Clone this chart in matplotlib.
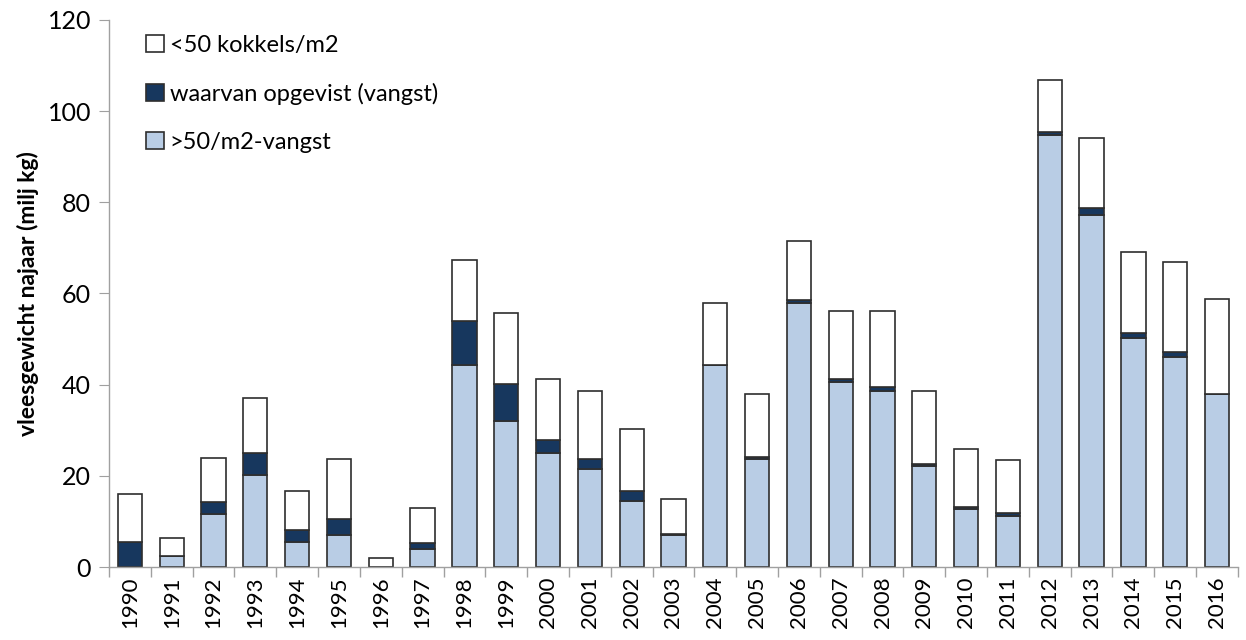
import numpy as np
import matplotlib.pyplot as plt

# Kokkelbestand najaar per jaar (milj kg vleesgewicht)
years = [str(y) for y in range(1990, 2017)]
vangst_boven50 = [0, 2.4, 11.7, 20.2, 5.6, 7.0, 0, 3.9, 44.3, 32.0, 24.9, 21.6, 14.5, 7.1,
                  44.2, 23.7, 57.9, 40.6, 38.7, 22.1, 12.8, 11.2, 94.7, 77.3, 50.3, 46.1, 37.9]
opgevist = [5.6, 0, 2.6, 4.8, 2.6, 3.5, 0, 1.4, 9.7, 8.1, 2.9, 2.0, 2.1, 0.2,
            0.2, 0.4, 0.6, 0.6, 0.8, 0.6, 0.4, 0.6, 0.6, 1.4, 1.1, 1.0, 0]
onder50 = [10.5, 4.0, 9.6, 12.1, 8.4, 13.1, 2.0, 7.7, 13.4, 15.6, 13.5, 14.9, 13.7, 7.6,
           13.5, 13.8, 12.9, 15.0, 16.7, 16.0, 12.6, 11.7, 11.5, 15.4, 17.7, 19.8, 20.8]

plt.rcParams['font.family'] = ['Lato', 'DejaVu Sans']

fig = plt.figure(figsize=(12.46, 6.4), dpi=100)
ax = fig.add_axes([0.0875, 0.114, 0.906, 0.855])

x = np.arange(len(years))
w = 0.58
edge = '#2e2e2e'
b1 = ax.bar(x, vangst_boven50, w, color='#B9CDE5', edgecolor=edge, linewidth=1.2)
b2 = ax.bar(x, opgevist, w, bottom=vangst_boven50, color='#17375E', edgecolor=edge, linewidth=1.2)
bottom2 = np.array(vangst_boven50) + np.array(opgevist)
b3 = ax.bar(x, onder50, w, bottom=bottom2, color='white', edgecolor=edge, linewidth=1.2)

ax.set_ylim(0, 120)
ax.set_xlim(-0.5, len(years) - 0.5)
ax.set_yticks(range(0, 121, 20))
ax.set_xticks(x)
ax.set_xticklabels(years, rotation=90, fontsize=16)
ax.set_xticks(np.arange(len(years) + 1) - 0.5, minor=True)
ax.tick_params(axis='x', which='major', length=0, pad=7)
ax.tick_params(axis='x', which='minor', length=7, color='#a0a0a0', width=1)
ax.tick_params(axis='y', length=7, color='#a0a0a0', labelsize=18, pad=6)

for s in ['top', 'right']:
    ax.spines[s].set_visible(False)
for s in ['left', 'bottom']:
    ax.spines[s].set_color('#a0a0a0')
    ax.spines[s].set_linewidth(1)

ax.set_ylabel('vleesgewicht najaar (milj kg)', fontsize=16.5, fontweight='bold', labelpad=6)

ax.legend([b3, b2, b1], ['<50 kokkels/m2', 'waarvan opgevist (vangst)', '>50/m2-vangst'],
          loc='upper left', bbox_to_anchor=(0.014, 1.012), frameon=False, fontsize=17,
          handlelength=0.75, handleheight=0.75, handletextpad=0.25, labelspacing=1.15)

plt.savefig('out.png', dpi=100)
